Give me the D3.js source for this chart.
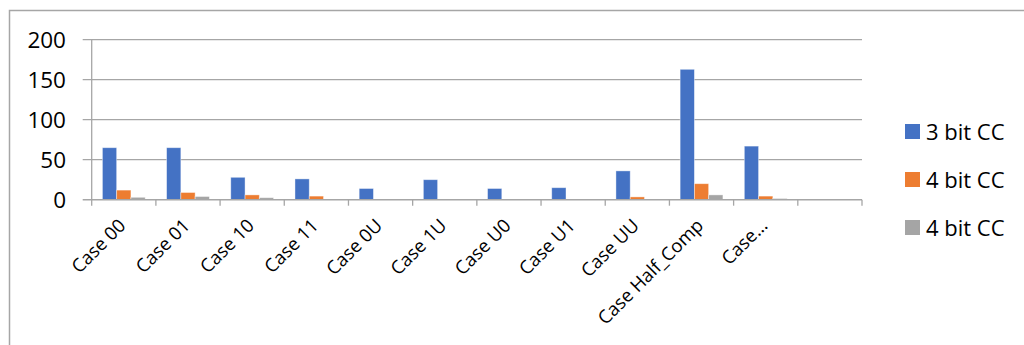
<!DOCTYPE html>
<html>
<head>
<meta charset="utf-8">
<script src="https://cdn.jsdelivr.net/npm/d3@7"></script>
<style>
  body { margin: 0; background: #fff; }
  text { font-family: "Open Sans", sans-serif; fill: #000; }
</style>
</head>
<body>
<script>
const categories = ['Case 00', 'Case 01', 'Case 10', 'Case 11', 'Case 0U', 'Case 1U',
  'Case U0', 'Case U1', 'Case UU', 'Case Half_Comp', 'Case...', ''];
const seriesNames = ['3 bit CC', '4 bit CC', '4 bit CC'];
const threeBit = [65, 65, 28, 26, 14, 25, 14, 15, 36, 163, 67, null];
const fourBit = [12, 9, 6, 4.5, 0, 0.5, 0.5, 0, 3.5, 20, 4.5, null];
const fourBitB = [3, 4, 2.5, 0, 0, 0, 0, 0, 0, 6, 1.5, null];
const yTicks = [0, 50, 100, 150, 200];
const colors = ['#4472C4', '#ED7D31', '#A5A5A5'];

const width = 1024, height = 345;
const plotLeft = 91.7, plotRight = 862, plotTop = 39.7, plotBottom = 199.7;

const svg = d3.select(document.body).append('svg')
  .attr('width', width)
  .attr('height', height);

// chart border
svg.append('rect')
  .attr('x', 9.5).attr('y', 10.5)
  .attr('width', 1030).attr('height', 350)
  .attr('fill', 'none')
  .attr('stroke', '#a6a6a6')
  .attr('stroke-width', 1.5);

const x = d3.scaleBand().domain(d3.range(categories.length)).range([plotLeft, plotRight]);
const xSub = d3.scaleBand().domain(d3.range(seriesNames.length))
  .range([0, x.bandwidth()]).paddingInner(0).paddingOuter(0.75);
const y = d3.scaleLinear().domain([0, 200]).range([plotBottom, plotTop]);

// gridlines
svg.append('g').selectAll('line').data(yTicks.filter(d => d > 0)).enter().append('line')
  .attr('x1', plotLeft - 9).attr('x2', plotRight)
  .attr('y1', d => y(d)).attr('y2', d => y(d))
  .attr('stroke', '#a6a6a6').attr('stroke-width', 1.3);

// y labels
svg.append('g').selectAll('text').data(yTicks).enter().append('text')
  .attr('x', 66).attr('y', d => y(d) + 8)
  .attr('text-anchor', 'end')
  .style('font-size', '22.5px')
  .text(d => d);

// bars
const allSeries = [threeBit, fourBit, fourBitB];
allSeries.forEach((vals, s) => {
  svg.append('g').selectAll('rect')
    .data(vals.map((v, i) => ({ v, i })).filter(d => d.v != null && d.v > 0))
    .enter().append('rect')
    .attr('x', d => x(d.i) + xSub(s))
    .attr('width', xSub.bandwidth())
    .attr('y', d => y(d.v))
    .attr('height', d => y(0) - y(d.v))
    .attr('fill', colors[s])
    .attr('stroke', 'rgba(255,255,255,0.5)')
    .attr('stroke-width', 0.8);
});

// axes lines
svg.append('line')
  .attr('x1', plotLeft).attr('x2', plotLeft).attr('y1', plotTop).attr('y2', plotBottom)
  .attr('stroke', '#a6a6a6').attr('stroke-width', 1.3);
svg.append('line')
  .attr('x1', plotLeft - 9).attr('x2', plotRight).attr('y1', plotBottom).attr('y2', plotBottom)
  .attr('stroke', '#a6a6a6').attr('stroke-width', 1.5);
svg.append('g').selectAll('line').data(d3.range(categories.length + 1)).enter().append('line')
  .attr('x1', d => plotLeft + d * x.step()).attr('x2', d => plotLeft + d * x.step())
  .attr('y1', plotBottom).attr('y2', plotBottom + 6)
  .attr('stroke', '#a6a6a6').attr('stroke-width', 1.3);

// x labels
svg.append('g').selectAll('text').data(categories).enter().append('text')
  .attr('text-anchor', 'end')
  .attr('transform', (d, i) => `translate(${x(i) + x.bandwidth() / 2 + 3},${plotBottom + 27}) rotate(-45)`)
  .style('font-size', '18.5px')
  .text(d => d);

// legend
const legend = svg.append('g').selectAll('g').data(seriesNames).enter().append('g')
  .attr('transform', (d, i) => `translate(905,${124 + i * 48})`);
legend.append('rect')
  .attr('width', 15).attr('height', 15)
  .attr('fill', (d, i) => colors[i]);
legend.append('text')
  .attr('x', 21).attr('y', 15.5)
  .style('font-size', '22px')
  .text(d => d);
</script>
</body>
</html>
